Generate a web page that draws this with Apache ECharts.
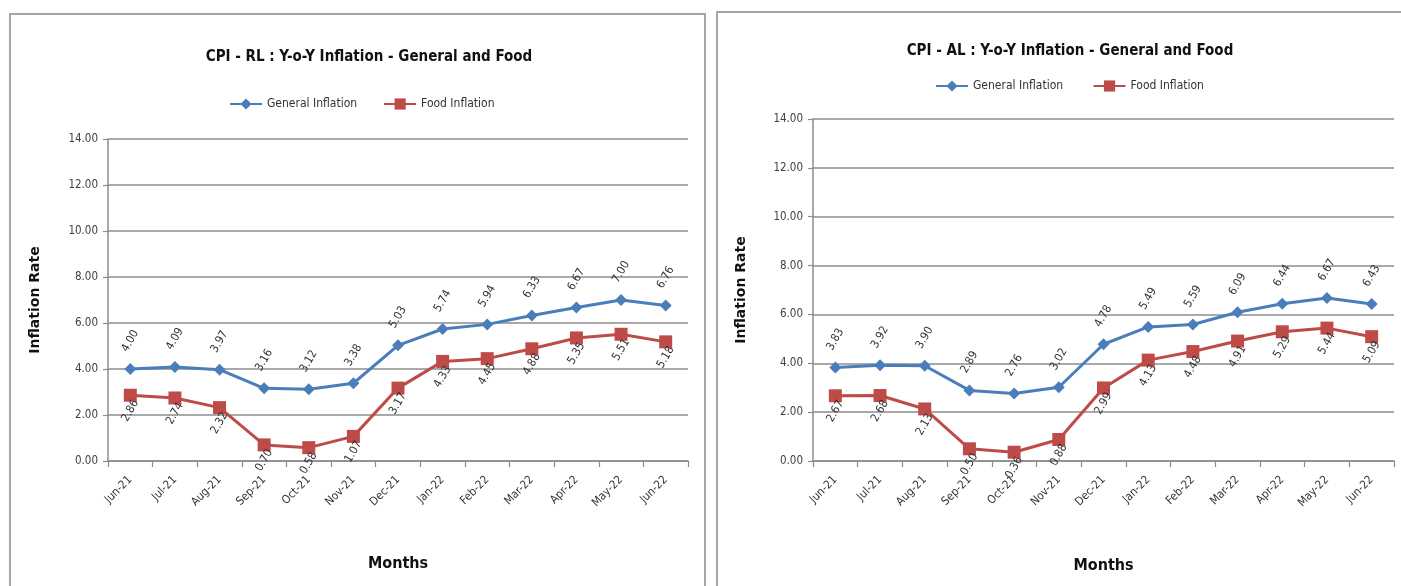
<!DOCTYPE html>
<html><head><meta charset="utf-8">
<script src="https://cdn.jsdelivr.net/npm/echarts@6/dist/echarts.min.js"></script>
<style>html,body{margin:0;padding:0;background:#fff}#c{width:1401px;height:586px}</style>
</head><body><div id="c"></div>
<script>
const months = ['Jun-21','Jul-21','Aug-21','Sep-21','Oct-21','Nov-21','Dec-21','Jan-22','Feb-22','Mar-22','Apr-22','May-22','Jun-22'];
const yTicks = [0, 2, 4, 6, 8, 10, 12, 14];
const rlGeneral = [4.00, 4.09, 3.97, 3.16, 3.12, 3.38, 5.03, 5.74, 5.94, 6.33, 6.67, 7.00, 6.76];
const rlFood    = [2.86, 2.74, 2.32, 0.70, 0.58, 1.07, 3.17, 4.33, 4.45, 4.88, 5.35, 5.51, 5.18];
const alGeneral = [3.83, 3.92, 3.90, 2.89, 2.76, 3.02, 4.78, 5.49, 5.59, 6.09, 6.44, 6.67, 6.43];
const alFood    = [2.67, 2.68, 2.13, 0.50, 0.36, 0.88, 2.99, 4.13, 4.48, 4.91, 5.29, 5.44, 5.09];
const titles = ['CPI - RL : Y-o-Y Inflation - General and Food', 'CPI - AL : Y-o-Y Inflation - General and Food'];

const BLUE = '#4A7EBB', RED = '#BE4B48', GRID = '#8c8c8c';
const NARROW = '"Liberation Sans Narrow", "DejaVu Sans Condensed", sans-serif';

const grids = [
  {left: 108, top: 139, width: 580, height: 322},
  {left: 813, top: 119, width: 581, height: 342}
];

function xAxis(i) {
  return {
    gridIndex: i, type: 'category', data: months, boundaryGap: true,
    name: 'Months', nameLocation: 'middle', nameGap: i === 0 ? 95 : 97,
    nameTextStyle: {fontFamily: NARROW, fontWeight: 'bold', fontSize: 16, color: '#111'},
    axisLine: {lineStyle: {color: GRID, width: 1.5}},
    axisTick: {show: true, length: 6, lineStyle: {color: GRID, width: 1.2}},
    axisLabel: {rotate: 45, interval: 0, fontFamily: NARROW, fontSize: 11.5, color: '#333', margin: 17}
  };
}
function yAxis(i) {
  return {
    gridIndex: i, type: 'value', min: yTicks[0], max: yTicks[yTicks.length - 1], interval: 2,
    name: 'Inflation Rate', nameLocation: 'middle', nameGap: i === 0 ? 66 : 65,
    nameTextStyle: {fontFamily: '"DejaVu Sans", Verdana, sans-serif', fontWeight: 'bold', fontSize: 14, color: '#111'},
    axisLine: {show: true, lineStyle: {color: GRID, width: 1.5}},
    axisTick: {show: true, length: 5, lineStyle: {color: GRID, width: 1.2}},
    axisLabel: {formatter: v => v.toFixed(2), fontFamily: NARROW, fontSize: 11.5, color: '#404040', margin: 10},
    splitLine: {show: true, lineStyle: {color: GRID, width: 1.5}}
  };
}
function series(name, data, i, color, symbol, top) {
  return {
    name: name, type: 'line', data: data, xAxisIndex: i, yAxisIndex: i,
    symbol: symbol, symbolSize: symbol === 'diamond' ? 12 : 13,
    lineStyle: {color: color, width: 3}, itemStyle: {color: color},
    label: {
      show: true, formatter: p => p.value.toFixed(2), rotate: 60,
      position: top ? 'top' : 'bottom', distance: top ? 22 : 9,
      align: 'center', verticalAlign: 'middle',
      fontFamily: NARROW, fontSize: 11.5, color: '#333'
    },
    z: top ? 3 : 2
  };
}

const chart = echarts.init(document.getElementById('c'));
chart.setOption({
  animation: false,
  graphic: [
    {type: 'rect', shape: {x: 10, y: 14, width: 695, height: 600}, style: {fill: 'none', stroke: '#a6a6a6', lineWidth: 2}},
    {type: 'rect', shape: {x: 717, y: 12, width: 700, height: 600}, style: {fill: 'none', stroke: '#a6a6a6', lineWidth: 2}}
  ],
  title: [
    {text: titles[0], left: 364, top: 52, textAlign: 'center', textVerticalAlign: 'middle',
     textStyle: {fontFamily: NARROW, fontWeight: 'bold', fontSize: 15, color: '#111'}},
    {text: titles[1], left: 1065, top: 46, textAlign: 'center', textVerticalAlign: 'middle',
     textStyle: {fontFamily: NARROW, fontWeight: 'bold', fontSize: 15, color: '#111'}}
  ],
  legend: [
    {left: 224, top: 93, itemWidth: 32, itemHeight: 14, itemGap: 26,
     textStyle: {fontFamily: NARROW, fontSize: 12, color: '#333'},
     data: ['General Inflation', 'Food Inflation']},
    {left: 930, top: 75, itemWidth: 32, itemHeight: 14, itemGap: 26,
     textStyle: {fontFamily: NARROW, fontSize: 12, color: '#333'},
     data: ['General Inflation ', 'Food Inflation ']}
  ],
  grid: grids,
  xAxis: [xAxis(0), xAxis(1)],
  yAxis: [yAxis(0), yAxis(1)],
  series: [
    series('General Inflation', rlGeneral, 0, BLUE, 'diamond', true),
    series('Food Inflation', rlFood, 0, RED, 'rect', false),
    series('General Inflation ', alGeneral, 1, BLUE, 'diamond', true),
    series('Food Inflation ', alFood, 1, RED, 'rect', false)
  ]
});
</script></body></html>
